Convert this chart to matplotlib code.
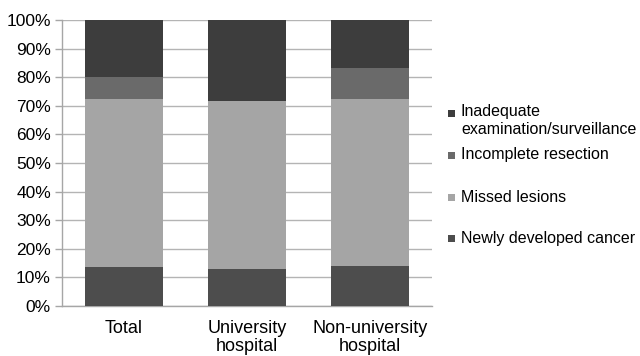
import matplotlib
matplotlib.use("Agg")
import matplotlib.pyplot as plt
from matplotlib.patches import Rectangle
import numpy as np

plt.rcParams['font.family'] = ['Liberation Sans', 'DejaVu Sans']

categories = ["Total", "University\nhospital", "Non-university\nhospital"]
series_names = ["Newly developed cancer", "Missed lesions", "Incomplete resection",
                "Inadequate\nexamination/surveillance"]
newly_developed = [13.7, 12.9, 14.0]
missed_lesions = [58.7, 58.9, 58.4]
incomplete_resection = [7.8, 0.0, 10.9]
inadequate_exam = [19.8, 28.2, 16.7]
series_values = [newly_developed, missed_lesions, incomplete_resection, inadequate_exam]
colors = ["#4d4d4d", "#a5a5a5", "#6a6a6a", "#3d3d3d"]
yticks = np.arange(0, 101, 10)

fig = plt.figure(figsize=(6.4, 3.56), dpi=100)
ax = fig.add_axes([62 / 640, 50 / 356, 370 / 640, 286 / 356])

x = np.arange(len(categories))
bottom = np.zeros(len(categories))
for vals, col in zip(series_values, colors):
    ax.bar(x, vals, bottom=bottom, width=0.635, color=col, zorder=3)
    bottom += np.array(vals)

ax.set_xlim(-0.5, len(categories) - 0.5)
ax.set_ylim(0, 100)
ax.set_yticks(yticks)
ax.set_yticklabels([f"{v}%" for v in yticks], fontsize=12.5)
ax.set_xticks(x)
ax.set_xticklabels(categories, fontsize=13, linespacing=1.05)
ax.tick_params(axis='x', length=0, pad=10)
ax.tick_params(axis='y', length=5, width=1, color="#a6a6a6", pad=3)
ax.grid(axis='y', color="#b4b4b4", linewidth=1, zorder=0)
for side in ['top', 'right']:
    ax.spines[side].set_visible(False)
for side in ['left', 'bottom']:
    ax.spines[side].set_color("#a6a6a6")
    ax.spines[side].set_linewidth(1)

# legend, top-to-bottom in reverse stacking order; the marker sits beside the first line
legend_rows = [(series_names[3], colors[3], 113),
               (series_names[2], colors[2], 155),
               (series_names[1], colors[1], 197),
               (series_names[0], colors[0], 238)]
for name, col, ypix in legend_rows:
    fig.patches.append(Rectangle((448 / 640, (356 - ypix - 3.5) / 356), 7 / 640, 7 / 356,
                                 transform=fig.transFigure, facecolor=col,
                                 edgecolor='none'))
    if '\n' in name:
        fig.text(461 / 640, (356 - ypix + 9) / 356, name, fontsize=11.5, va='top',
                 ha='left', linespacing=1.25, transform=fig.transFigure)
    else:
        fig.text(461 / 640, (356 - ypix) / 356, name, fontsize=11.5, va='center',
                 ha='left', transform=fig.transFigure)

fig.savefig("out.png", dpi=100)
